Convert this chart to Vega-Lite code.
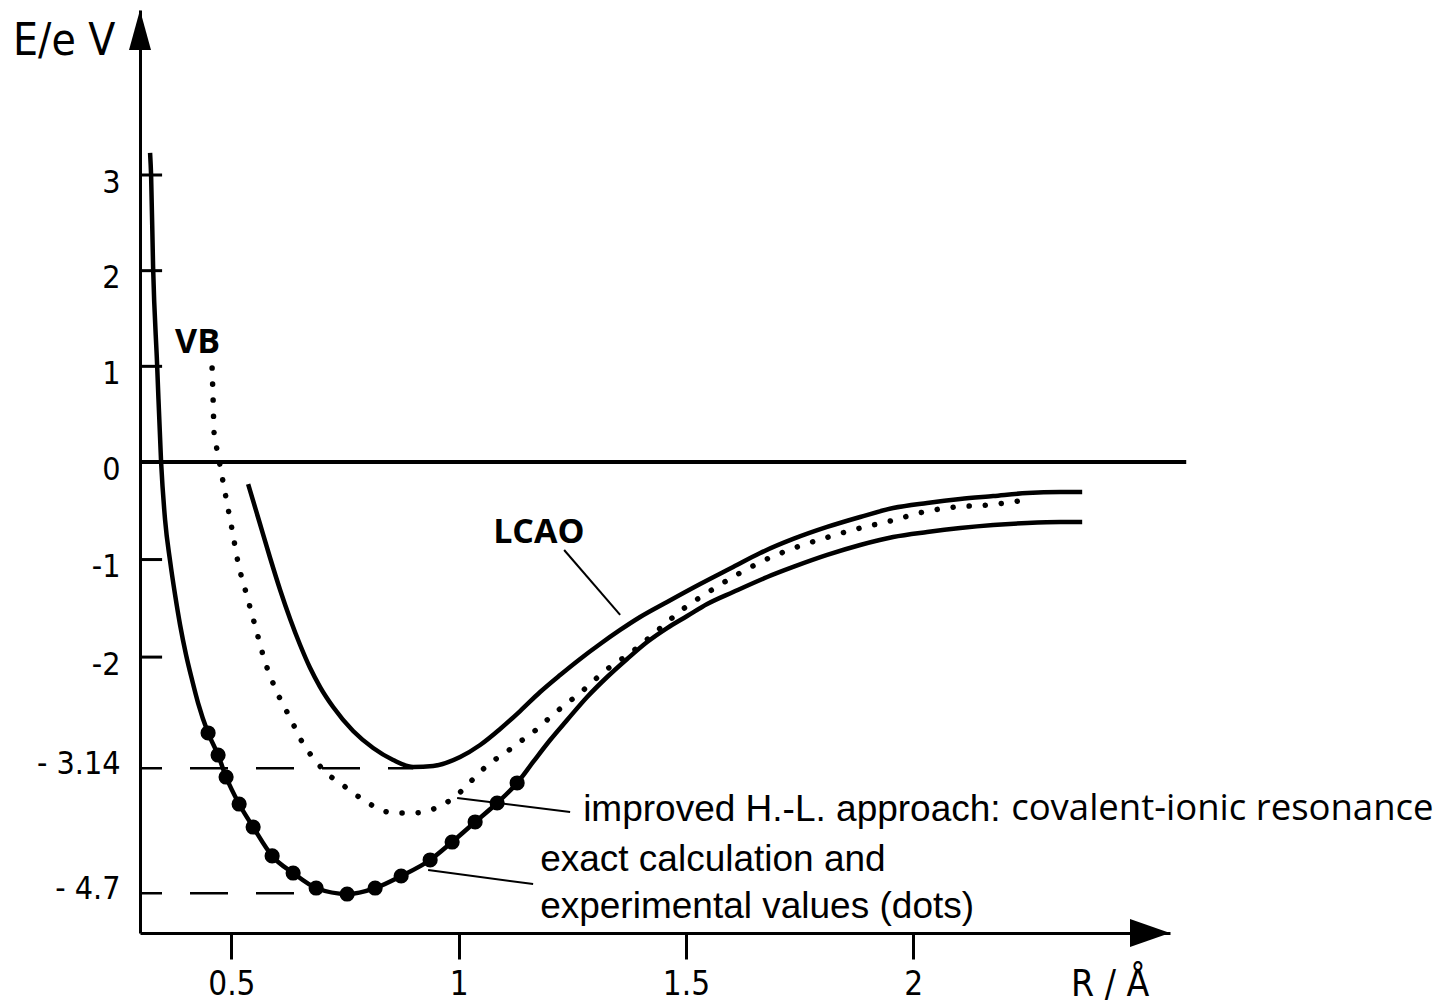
{
  "$schema": "https://vega.github.io/schema/vega-lite/v6.json",
  "width": 1030,
  "height": 923,
  "autosize": {"type": "none"},
  "padding": {"left": 140, "top": 10, "right": 280, "bottom": 74},
  "background": "white",
  "config": {"view": {"stroke": null}},
  "encoding": {
    "x": {
      "field": "x", "type": "quantitative", "title": null,
      "scale": {"domain": [0.299, 2.565], "nice": false, "zero": false},
      "axis": {
        "values": [0.5, 1, 1.5, 2], "grid": false,
        "domainColor": "black", "domainWidth": 3,
        "tickColor": "black", "tickWidth": 3, "tickSize": 26,
        "labelFont": "DejaVu Sans Condensed, Liberation Sans Narrow, DejaVu Sans, sans-serif",
        "labelFontSize": 33, "labelColor": "black", "labelPadding": 9,
        "labelExpr": "'' + datum.value", "labelFlush": false, "labelOverlap": false
      }
    },
    "y": {
      "field": "y", "type": "quantitative", "title": null,
      "scale": {"domain": [-5.195, -4.7, -3.14, 0, 3, 4.72], "range": [923, 883.3, 758.3, 452, 165, 0], "nice": false, "zero": false},
      "axis": {
        "values": [-4.7, -3.14, -2, -1, 0, 1, 2, 3], "grid": false,
        "domainColor": "black", "domainWidth": 3, "ticks": false,
        "labelFont": "DejaVu Sans Condensed, Liberation Sans Narrow, DejaVu Sans, sans-serif",
        "labelFontSize": 32, "labelColor": "black", "labelPadding": 20,
        "labelExpr": "datum.value == -4.7 ? '- 4.7' : datum.value == -3.14 ? '- 3.14' : '' + datum.value",
        "labelOffset": {"condition": {"test": "datum.value < -3", "value": -5}, "value": 7},
        "labelFlush": false, "labelOverlap": false
      }
    }
  },
  "layer": [
    {
      "data": {"values": [{"x": 0.299, "x2": 2.6007, "y": 0}]},
      "mark": {"type": "rule", "strokeWidth": 4, "color": "black"},
      "encoding": {"x2": {"field": "x2"}}
    },
    {
      "data": {"values": [
        {"x": 0.299, "x2": 0.3476, "y": 3},
        {"x": 0.299, "x2": 0.3476, "y": 2},
        {"x": 0.299, "x2": 0.3476, "y": 1},
        {"x": 0.299, "x2": 0.3476, "y": -1},
        {"x": 0.299, "x2": 0.3476, "y": -2}
      ]},
      "mark": {"type": "rule", "strokeWidth": 3, "color": "black"},
      "encoding": {"x2": {"field": "x2"}}
    },
    {
      "data": {"values": [
        {"x": 0.299, "x2": 0.900, "y": -3.14},
        {"x": 0.299, "x2": 0.689, "y": -4.7}
      ]},
      "mark": {"type": "rule", "strokeWidth": 2.5, "color": "black", "strokeDash": [38, 28], "strokeDashOffset": 16},
      "encoding": {"x2": {"field": "x2"}}
    },
    {
      "data": {"values": [
        {"series": "exact", "x": 0.3212, "y": 3.23},
        {"series": "exact", "x": 0.3234, "y": 3.0},
        {"series": "exact", "x": 0.3278, "y": 2.038},
        {"series": "exact", "x": 0.3366, "y": 1.024},
        {"series": "exact", "x": 0.3454, "y": 0},
        {"series": "exact", "x": 0.3542, "y": -0.595},
        {"series": "exact", "x": 0.3652, "y": -1.015},
        {"series": "exact", "x": 0.3762, "y": -1.363},
        {"series": "exact", "x": 0.3872, "y": -1.671},
        {"series": "exact", "x": 0.4004, "y": -1.978},
        {"series": "exact", "x": 0.4136, "y": -2.235},
        {"series": "exact", "x": 0.4268, "y": -2.471},
        {"series": "exact", "x": 0.4488, "y": -2.778},
        {"series": "exact", "x": 0.4708, "y": -3.004},
        {"series": "exact", "x": 0.4884, "y": -3.249},
        {"series": "exact", "x": 0.5171, "y": -3.586},
        {"series": "exact", "x": 0.5479, "y": -3.873},
        {"series": "exact", "x": 0.5897, "y": -4.234},
        {"series": "exact", "x": 0.6359, "y": -4.447},
        {"series": "exact", "x": 0.6865, "y": -4.634},
        {"series": "exact", "x": 0.7547, "y": -4.709},
        {"series": "exact", "x": 0.8163, "y": -4.634},
        {"series": "exact", "x": 0.8735, "y": -4.484},
        {"series": "exact", "x": 0.9373, "y": -4.284},
        {"series": "exact", "x": 0.9857, "y": -4.06},
        {"series": "exact", "x": 1.0363, "y": -3.81},
        {"series": "exact", "x": 1.0847, "y": -3.573},
        {"series": "exact", "x": 1.1287, "y": -3.323},
        {"series": "exact", "x": 1.1639, "y": -3.075},
        {"series": "exact", "x": 1.2013, "y": -2.85},
        {"series": "exact", "x": 1.2387, "y": -2.645},
        {"series": "exact", "x": 1.2827, "y": -2.409},
        {"series": "exact", "x": 1.3267, "y": -2.204},
        {"series": "exact", "x": 1.3707, "y": -2.019},
        {"series": "exact", "x": 1.4147, "y": -1.845},
        {"series": "exact", "x": 1.4587, "y": -1.702},
        {"series": "exact", "x": 1.5028, "y": -1.579},
        {"series": "exact", "x": 1.5468, "y": -1.456},
        {"series": "exact", "x": 1.604, "y": -1.333},
        {"series": "exact", "x": 1.6788, "y": -1.179},
        {"series": "exact", "x": 1.736, "y": -1.076},
        {"series": "exact", "x": 1.8108, "y": -0.953},
        {"series": "exact", "x": 1.8834, "y": -0.851},
        {"series": "exact", "x": 1.956, "y": -0.769},
        {"series": "exact", "x": 2.0308, "y": -0.718},
        {"series": "exact", "x": 2.1034, "y": -0.677},
        {"series": "exact", "x": 2.176, "y": -0.646},
        {"series": "exact", "x": 2.2508, "y": -0.625},
        {"series": "exact", "x": 2.3234, "y": -0.615},
        {"series": "exact", "x": 2.3718, "y": -0.615},
        {"series": "LCAO", "x": 0.5369, "y": -0.226},
        {"series": "LCAO", "x": 0.5611, "y": -0.605},
        {"series": "LCAO", "x": 0.5853, "y": -0.984},
        {"series": "LCAO", "x": 0.6073, "y": -1.312},
        {"series": "LCAO", "x": 0.6293, "y": -1.609},
        {"series": "LCAO", "x": 0.6513, "y": -1.876},
        {"series": "LCAO", "x": 0.6733, "y": -2.112},
        {"series": "LCAO", "x": 0.6953, "y": -2.307},
        {"series": "LCAO", "x": 0.7239, "y": -2.512},
        {"series": "LCAO", "x": 0.7679, "y": -2.758},
        {"series": "LCAO", "x": 0.8119, "y": -2.932},
        {"series": "LCAO", "x": 0.8559, "y": -3.055},
        {"series": "LCAO", "x": 0.8999, "y": -3.127},
        {"series": "LCAO", "x": 0.9439, "y": -3.116},
        {"series": "LCAO", "x": 1.0033, "y": -3.024},
        {"series": "LCAO", "x": 1.0473, "y": -2.901},
        {"series": "LCAO", "x": 1.0913, "y": -2.737},
        {"series": "LCAO", "x": 1.1353, "y": -2.553},
        {"series": "LCAO", "x": 1.1793, "y": -2.358},
        {"series": "LCAO", "x": 1.2233, "y": -2.184},
        {"series": "LCAO", "x": 1.2673, "y": -2.019},
        {"series": "LCAO", "x": 1.3113, "y": -1.866},
        {"series": "LCAO", "x": 1.3553, "y": -1.722},
        {"series": "LCAO", "x": 1.3993, "y": -1.589},
        {"series": "LCAO", "x": 1.4587, "y": -1.435},
        {"series": "LCAO", "x": 1.5314, "y": -1.251},
        {"series": "LCAO", "x": 1.604, "y": -1.076},
        {"series": "LCAO", "x": 1.6634, "y": -0.933},
        {"series": "LCAO", "x": 1.736, "y": -0.789},
        {"series": "LCAO", "x": 1.8108, "y": -0.666},
        {"series": "LCAO", "x": 1.8834, "y": -0.564},
        {"series": "LCAO", "x": 1.956, "y": -0.472},
        {"series": "LCAO", "x": 2.0308, "y": -0.42},
        {"series": "LCAO", "x": 2.1034, "y": -0.379},
        {"series": "LCAO", "x": 2.176, "y": -0.349},
        {"series": "LCAO", "x": 2.2508, "y": -0.318},
        {"series": "LCAO", "x": 2.3234, "y": -0.308},
        {"series": "LCAO", "x": 2.3718, "y": -0.308}
      ]},
      "mark": {"type": "line", "strokeWidth": 4.5, "color": "black", "interpolate": "monotone"},
      "encoding": {"detail": {"field": "series"}}
    },
    {
      "data": {"values": [
        {"x": 0.4576, "y": 0.983},
        {"x": 0.4598, "y": 0.659},
        {"x": 0.462, "y": 0.303},
        {"x": 0.4686, "y": 0.125},
        {"x": 0.4752, "y": -0.041},
        {"x": 0.4884, "y": -0.369},
        {"x": 0.5017, "y": -0.697},
        {"x": 0.5149, "y": -1.035},
        {"x": 0.5325, "y": -1.343},
        {"x": 0.5523, "y": -1.681},
        {"x": 0.5743, "y": -2.05},
        {"x": 0.5963, "y": -2.317},
        {"x": 0.6293, "y": -2.624},
        {"x": 0.6623, "y": -2.922},
        {"x": 0.6843, "y": -3.055},
        {"x": 0.7063, "y": -3.186},
        {"x": 0.7393, "y": -3.323},
        {"x": 0.7679, "y": -3.448},
        {"x": 0.7987, "y": -3.561},
        {"x": 0.8273, "y": -3.66},
        {"x": 0.8647, "y": -3.698},
        {"x": 0.8977, "y": -3.698},
        {"x": 0.9307, "y": -3.673},
        {"x": 0.9637, "y": -3.598},
        {"x": 0.9967, "y": -3.473},
        {"x": 1.0253, "y": -3.311},
        {"x": 1.0693, "y": -3.086},
        {"x": 1.1023, "y": -2.983},
        {"x": 1.1309, "y": -2.881},
        {"x": 1.1617, "y": -2.778},
        {"x": 1.2145, "y": -2.563},
        {"x": 1.2695, "y": -2.358},
        {"x": 1.3245, "y": -2.132},
        {"x": 1.3839, "y": -1.937},
        {"x": 1.4389, "y": -1.722},
        {"x": 1.4939, "y": -1.507},
        {"x": 1.5534, "y": -1.322},
        {"x": 1.615, "y": -1.148},
        {"x": 1.6788, "y": -0.994},
        {"x": 1.7448, "y": -0.871},
        {"x": 1.813, "y": -0.769},
        {"x": 1.8834, "y": -0.677},
        {"x": 1.9494, "y": -0.605},
        {"x": 2.022, "y": -0.513},
        {"x": 2.0924, "y": -0.461},
        {"x": 2.165, "y": -0.441},
        {"x": 2.231, "y": -0.4}
      ]},
      "mark": {"type": "line", "strokeWidth": 5.5, "color": "black", "strokeDash": [0.1, 16], "strokeCap": "round", "interpolate": "monotone"}
    },
    {
      "data": {"values": [
        {"x": 0.4488, "y": -2.778},
        {"x": 0.4708, "y": -3.004},
        {"x": 0.4884, "y": -3.249},
        {"x": 0.5171, "y": -3.586},
        {"x": 0.5479, "y": -3.873},
        {"x": 0.5897, "y": -4.234},
        {"x": 0.6359, "y": -4.447},
        {"x": 0.6865, "y": -4.634},
        {"x": 0.7547, "y": -4.709},
        {"x": 0.8163, "y": -4.634},
        {"x": 0.8735, "y": -4.484},
        {"x": 0.9373, "y": -4.284},
        {"x": 0.9857, "y": -4.06},
        {"x": 1.0363, "y": -3.81},
        {"x": 1.0847, "y": -3.573},
        {"x": 1.1287, "y": -3.323}
      ]},
      "mark": {"type": "point", "filled": true, "color": "black", "size": 230, "opacity": 1}
    },
    {
      "data": {"values": [
        {"x": 1.2321, "y": -0.902, "x2": 1.3553, "y2": -1.568},
        {"x": 0.9967, "y": -3.511, "x2": 1.2453, "y2": -3.685},
        {"x": 0.9329, "y": -4.409, "x2": 1.1639, "y2": -4.584}
      ]},
      "mark": {"type": "rule", "strokeWidth": 2, "color": "black"},
      "encoding": {"x2": {"field": "x2"}, "y2": {"field": "y2"}}
    },
    {
      "data": {"values": [{"x": 0.299, "y": 4.72}]},
      "mark": {"type": "point", "shape": "M-0.55,2L0,0L0.55,2Z", "size": 1600, "filled": true, "color": "black", "opacity": 1, "strokeWidth": 0}
    },
    {
      "data": {"values": [{"x": 2.565, "y": -5.195}]},
      "mark": {"type": "point", "shape": "M-2,-0.7L0,0L-2,0.7Z", "size": 1600, "filled": true, "color": "black", "opacity": 1, "strokeWidth": 0}
    },
    {
      "data": {"values": [{"x": 0.0198, "y": 4.251, "label": "E/e V"}]},
      "mark": {"type": "text", "align": "left", "baseline": "alphabetic", "font": "DejaVu Sans Condensed, Liberation Sans Narrow, DejaVu Sans, sans-serif", "fontSize": 44, "color": "black"},
      "encoding": {"text": {"field": "label"}}
    },
    {
      "data": {"values": [{"x": 2.4334, "y": -5.982, "label": "R / Å"}]},
      "mark": {"type": "text", "align": "center", "baseline": "alphabetic", "font": "DejaVu Sans Condensed, Liberation Sans Narrow, DejaVu Sans, sans-serif", "fontSize": 37, "color": "black"},
      "encoding": {"text": {"field": "label"}}
    },
    {
      "data": {"values": [
        {"x": 0.3762, "y": 1.139, "label": "VB"},
        {"x": 1.0759, "y": -0.83, "label": "LCAO"}
      ]},
      "mark": {"type": "text", "align": "left", "baseline": "alphabetic", "font": "Open Sans", "fontWeight": "bold", "fontSize": 34, "color": "black"},
      "encoding": {"text": {"field": "label"}}
    },
    {
      "data": {"values": [
        {"x": 1.2739, "y": -3.798, "label": "improved H.-L. approach:"},
        {"x": 1.1793, "y": -4.422, "label": "exact calculation and"},
        {"x": 1.1793, "y": -5.008, "label": "experimental values (dots)"}
      ]},
      "mark": {"type": "text", "align": "left", "baseline": "alphabetic", "font": "Liberation Sans", "fontSize": 37, "color": "black"},
      "encoding": {"text": {"field": "label"}}
    },
    {
      "data": {"values": [{"x": 2.2156, "y": -3.783, "label": "covalent-ionic resonance"}]},
      "mark": {"type": "text", "align": "left", "baseline": "alphabetic", "font": "Open Sans", "fontSize": 36.5, "color": "black"},
      "encoding": {"text": {"field": "label"}}
    }
  ]
}
